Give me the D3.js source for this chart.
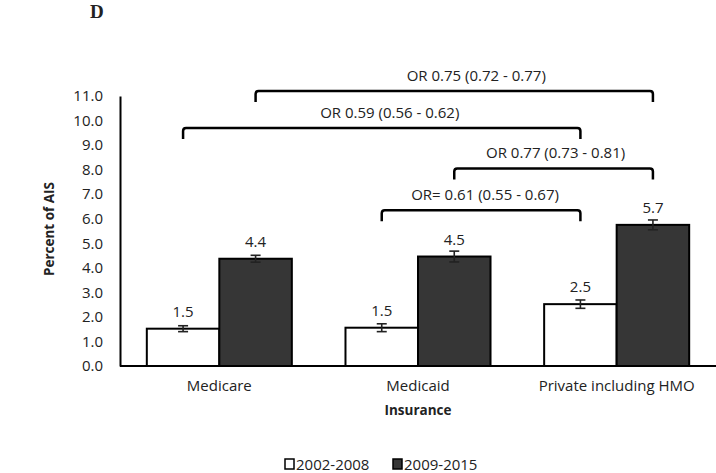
<!DOCTYPE html>
<html>
<head>
<meta charset="utf-8">
<script src="https://cdn.jsdelivr.net/npm/d3@7"></script>
<style>
  html, body { margin: 0; padding: 0; background: #fff; }
  svg { display: block; }
  text { font-family: "Open Sans", "Liberation Sans", sans-serif; fill: #222; }
</style>
</head>
<body>
<svg id="chart" width="716" height="473"></svg>
<script>
// ---- data ----
const categories = ["Medicare", "Medicaid", "Private including HMO"];
const seriesNames = ["2002-2008", "2009-2015"];
const values2002 = [1.52, 1.56, 2.52];
const values2009 = [4.37, 4.46, 5.75];
const labels2002 = ["1.5", "1.5", "2.5"];
const labels2009 = ["4.4", "4.5", "5.7"];
const err2002 = [0.12, 0.16, 0.17];
const err2009 = [0.14, 0.22, 0.2];
const yTicks = [0,1,2,3,4,5,6,7,8,9,10,11];
// brackets: from [category, series] to [category, series]
const bracketFrom = [[0,1],[0,0],[1,1],[1,0]];
const bracketTo = [[2,1],[2,0],[2,1],[2,0]];
const bracketLevel = [11.2, 9.7, 8.05, 6.35];
const bracketLabels = ["OR 0.75 (0.72 - 0.77)", "OR 0.59 (0.56 - 0.62)", "OR 0.77 (0.73 - 0.81)", "OR= 0.61 (0.55 - 0.67)"];
const bracketLabelShift = [22, 8, 2, 4];

const svg = d3.select("#chart");
const margin = {left: 120, right: 0, top: 96, bottom: 107};
const W = 716, H = 473;
const FS = "15px";
const x0 = d3.scaleBand().domain(categories).range([margin.left, W - margin.right]).paddingInner(0.27).paddingOuter(0.135);
const x1 = d3.scaleBand().domain(seriesNames).range([0, x0.bandwidth()]);
const y = d3.scaleLinear().domain([0, 11]).range([H - margin.bottom, margin.top]);
const fills = ["#ffffff", "#363636"];

const seriesVals = [values2002, values2009];
const seriesLabs = [labels2002, labels2009];
const seriesErr = [err2002, err2009];

// Axes
const yAxis = d3.axisLeft(y).tickValues(yTicks).tickFormat(d3.format(".1f")).tickSize(0).tickPadding(17);
const gy = svg.append("g").attr("transform", `translate(${margin.left},0)`).call(yAxis);
gy.select(".domain").attr("stroke", "#000").attr("stroke-width", 2);
gy.selectAll("text").style("font-size", FS).attr("fill", "#222").style("font-family", "'Open Sans', sans-serif");

// bars
seriesNames.forEach((s, si) => {
  const g = svg.append("g");
  categories.forEach((c, ci) => {
    const v = seriesVals[si][ci];
    const bx = x0(c) + x1(s);
    g.append("rect")
      .attr("x", bx).attr("y", y(v))
      .attr("width", x1.bandwidth()).attr("height", y(0) - y(v))
      .attr("fill", fills[si]).attr("stroke", "#000").attr("stroke-width", 2);
    const cx = bx + x1.bandwidth() / 2;
    const e = seriesErr[si][ci];
    const eb = g.append("g").attr("stroke", "#222").attr("stroke-width", 1.6);
    eb.append("line").attr("x1", cx).attr("x2", cx).attr("y1", y(v - e)).attr("y2", y(v + e));
    eb.append("line").attr("x1", cx - 5).attr("x2", cx + 5).attr("y1", y(v - e)).attr("y2", y(v - e));
    eb.append("line").attr("x1", cx - 5).attr("x2", cx + 5).attr("y1", y(v + e)).attr("y2", y(v + e));
    g.append("text").attr("x", cx).attr("y", y(v) - 12).attr("text-anchor", "middle")
      .style("font-size", FS).text(seriesLabs[si][ci]);
  });
});

// x axis line
svg.append("line").attr("x1", margin.left).attr("x2", W).attr("y1", y(0)).attr("y2", y(0))
  .attr("stroke", "#000").attr("stroke-width", 2);

// category labels
categories.forEach(c => {
  svg.append("text").attr("x", x0(c) + x0.bandwidth() / 2).attr("y", y(0) + 25)
    .attr("text-anchor", "middle").style("font-size", FS).text(c);
});

// axis titles
svg.append("text").attr("x", x0(categories[1]) + x0.bandwidth() / 2).attr("y", 415)
  .attr("text-anchor", "middle").style("font-size", "13.5px").style("font-weight", "bold").text("Insurance");
svg.append("text").attr("transform", `translate(54,${(y(0) + y(11)) / 2 - 2}) rotate(-90)`)
  .attr("text-anchor", "middle").style("font-size", "13.5px").style("font-weight", "bold").text("Percent of AIS");

// panel letter
svg.append("text").attr("x", 90).attr("y", 18).style("font-family", "'Liberation Serif', 'DejaVu Serif', serif")
  .style("font-size", "19px").style("font-weight", "bold").attr("fill", "#000").text("D");

// brackets
const centerOf = ([ci, si]) => x0(categories[ci]) + x1(seriesNames[si]) + x1.bandwidth() / 2;
bracketLabels.forEach((lab, i) => {
  const xa = centerOf(bracketFrom[i]);
  const xb = centerOf(bracketTo[i]);
  const yl = y(bracketLevel[i]);
  const drop = 11, r = 3;
  const p = `M${xa},${yl + drop} L${xa},${yl + r} Q${xa},${yl} ${xa + r},${yl} L${xb - r},${yl} Q${xb},${yl} ${xb},${yl + r} L${xb},${yl + drop}`;
  svg.append("path").attr("d", p).attr("fill", "none").attr("stroke", "#000").attr("stroke-width", 2.5);
  svg.append("text").attr("x", (xa + xb) / 2 + bracketLabelShift[i]).attr("y", yl - 10)
    .attr("text-anchor", "middle").style("font-size", FS).text(lab);
});

// legend
const legend = svg.append("g").attr("transform", "translate(285,459)");
const legX = [0, 108];
seriesNames.forEach((s, si) => {
  const g = legend.append("g").attr("transform", `translate(${legX[si]},0)`);
  g.append("rect").attr("x", 0).attr("y", 0).attr("width", 9).attr("height", 10)
    .attr("fill", fills[si]).attr("stroke", "#000").attr("stroke-width", 1.5);
  g.append("text").attr("x", 11).attr("y", 11).style("font-size", FS).text(s);
});
</script>
</body>
</html>
